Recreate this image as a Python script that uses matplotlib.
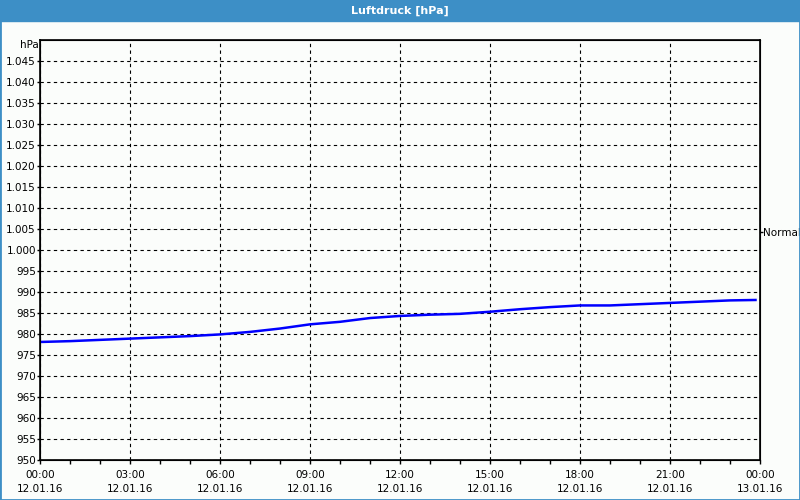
import matplotlib
matplotlib.use("Agg")
import matplotlib.pyplot as plt
from matplotlib.patches import Rectangle

# Luftdruck over one day (hours since 12.01.16 00:00)
hours = [0, 1, 2, 3, 4, 5, 6, 7, 8, 9, 10, 11, 12, 13, 14, 15, 16, 17, 18,
         19, 20, 21, 22, 23, 23.85]
pressure = [978.1, 978.3, 978.6, 978.9, 979.2, 979.5, 979.9, 980.5, 981.3,
            982.3, 982.9, 983.8, 984.3, 984.6, 984.8, 985.3, 985.9, 986.4,
            986.8, 986.8, 987.1, 987.4, 987.7, 988.0, 988.1]

xticks = [0, 3, 6, 9, 12, 15, 18, 21, 24]
xlabels = ["00:00\n12.01.16", "03:00\n12.01.16", "06:00\n12.01.16",
           "09:00\n12.01.16", "12:00\n12.01.16", "15:00\n12.01.16",
           "18:00\n12.01.16", "21:00\n12.01.16", "00:00\n13.01.16"]
yticks = list(range(950, 1050, 5))
normal_value = 1004.2

bg = "#fbfdfb"
blue = "#3d8fc6"

fig = plt.figure(figsize=(8, 5), dpi=100, facecolor=bg)
ax = fig.add_axes([0.05, 0.08, 0.90, 0.84], facecolor=bg)

ax.plot(hours, pressure, color="#0000ff", lw=1.8)

ax.set_xlim(0, 24)
ax.set_ylim(950, 1050)
ax.set_xticks(xticks)
ax.set_xticklabels(xlabels, fontsize=7.5, linespacing=1.55)
ax.set_xticks(range(0, 25), minor=True)
ax.set_yticks(yticks)
ax.set_yticklabels([f"{v:,}".replace(",", ".") for v in yticks], fontsize=7.5)
ax.tick_params(axis="x", which="both", length=3, width=1, pad=4, direction="out")
ax.tick_params(axis="y", length=2, width=1, pad=1)
ax.grid(True, which="major", color="black", ls=(0, (3, 3)), lw=0.8)
for s in ax.spines.values():
    s.set_linewidth(1.2)

# right side "Normal" marker
ax2 = ax.twinx()
ax2.set_ylim(950, 1050)
ax2.set_yticks([normal_value])
ax2.set_yticklabels(["Normal"], fontsize=7.5)
ax2.tick_params(axis="y", length=2, width=1, pad=0.5)

fig.text(0.048, 0.91, "hPa", fontsize=7.5, ha="right", va="center")

# title bar and frame
fig.patches.append(Rectangle((0, 0.958), 1, 0.042, transform=fig.transFigure,
                             color=blue, zorder=0))
fig.text(0.5, 0.979, "Luftdruck [hPa]", color="white", fontsize=8,
         fontweight="bold", ha="center", va="center")
fig.patches.append(Rectangle((0, 0), 1, 1, transform=fig.transFigure,
                             fill=False, edgecolor=blue, lw=2, zorder=0))

fig.savefig("out.png", dpi=100, facecolor=bg)
